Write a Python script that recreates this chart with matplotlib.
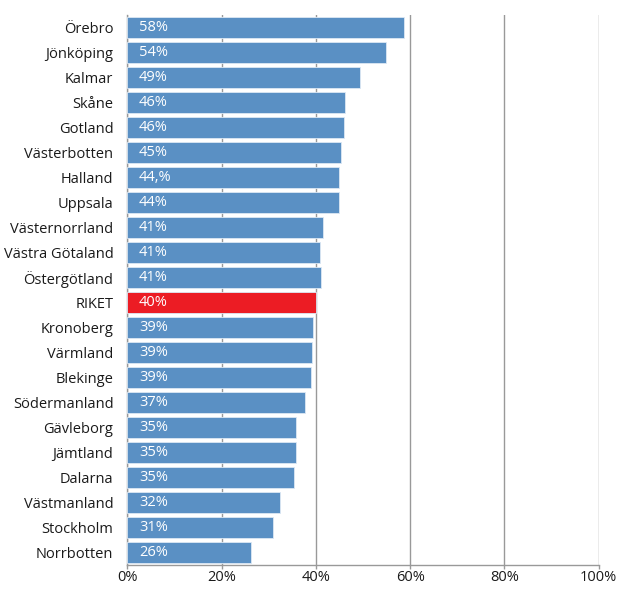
# Horizontal bar chart, share per county
import numpy as np
import matplotlib.pyplot as plt

regions = ['Örebro', 'Jönköping', 'Kalmar', 'Skåne', 'Gotland', 'Västerbotten',
           'Halland', 'Uppsala', 'Västernorrland', 'Västra Götaland', 'Östergötland',
           'RIKET', 'Kronoberg', 'Värmland', 'Blekinge', 'Södermanland', 'Gävleborg',
           'Jämtland', 'Dalarna', 'Västmanland', 'Stockholm', 'Norrbotten']
values = [58.8, 54.9, 49.4, 46.2, 46.0, 45.3, 44.9, 44.9, 41.5, 40.9, 41.0,
          40.0, 39.4, 39.2, 39.0, 37.8, 35.8, 35.7, 35.3, 32.4, 30.9, 26.2]
labels = ['58%', '54%', '49%', '46%', '46%', '45%', '44,%', '44%', '41%', '41%', '41%',
          '40%', '39%', '39%', '39%', '37%', '35%', '35%', '35%', '32%', '31%', '26%']

plt.rcParams['font.family'] = ['Open Sans', 'DejaVu Sans']

fig = plt.figure(figsize=(6.28, 5.89), dpi=100)
ax = fig.add_axes([0.2027, 0.041, 0.7506, 0.9335])

y = np.arange(len(regions))
colors = ['#ec1c24' if r == 'RIKET' else '#5a90c4' for r in regions]
ax.barh(y, values, height=0.84, color=colors, edgecolor='#dce8f4', linewidth=0.6, zorder=3)

for yi, lab in zip(y, labels):
    ax.text(2.5, yi, lab, color='white', fontsize=10.5, va='center', ha='left', zorder=4)

ax.set_xlim(0, 100)
ax.set_ylim(len(regions) - 0.5, -0.5)
ax.set_xticks(np.arange(0, 101, 20))
ax.set_xticklabels([f'{v}%' for v in range(0, 101, 20)], fontsize=10.5, color='#1a1a1a')
ax.set_yticks(y)
ax.set_yticklabels(regions, fontsize=10.5, color='#1a1a1a')
ax.tick_params(axis='y', length=0, pad=10)
ax.tick_params(axis='x', length=3, color='#999999', width=1, pad=1)

ax.grid(axis='x', color='#999999', linewidth=1, zorder=0)
for s in ['top', 'right']:
    ax.spines[s].set_visible(False)
for s in ['left', 'bottom']:
    ax.spines[s].set_color('#999999')
    ax.spines[s].set_linewidth(1)

fig.savefig('out.png', dpi=100)
